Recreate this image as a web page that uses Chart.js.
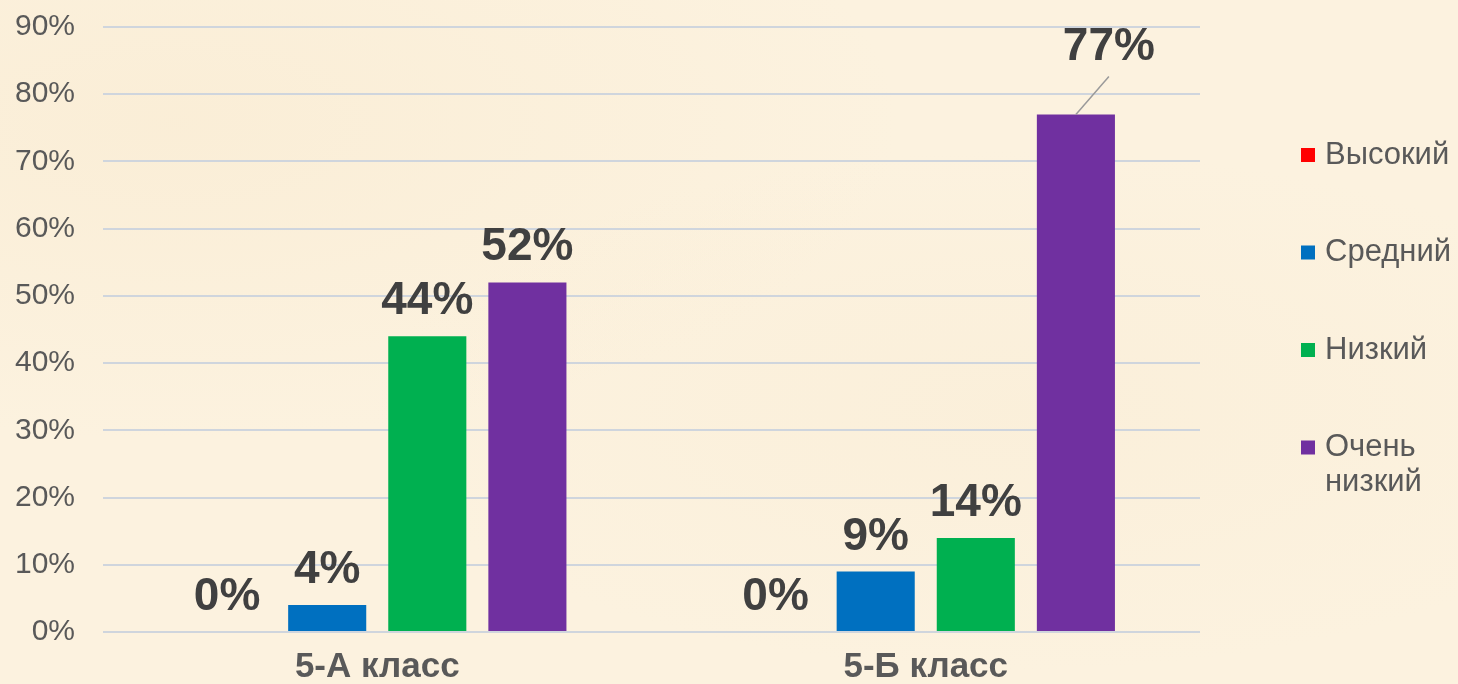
<!DOCTYPE html>
<html>
<head>
<meta charset="utf-8">
<script src="https://cdn.jsdelivr.net/npm/chart.js@4"></script>
<style>
    html, body {
        margin: 0;
        padding: 0;
        width: 1458px;
        height: 684px;
        overflow: hidden;
        background-color: #fcf2df;
        background-image:
            radial-gradient(ellipse at 12% 18%, rgba(245, 225, 190, 0.25), transparent 40%),
            radial-gradient(ellipse at 70% 60%, rgba(245, 228, 198, 0.20), transparent 45%);
    }
    #wrap {
        position: relative;
        width: 1458px;
        height: 684px;
    }
</style>
</head>
<body>
<div id="wrap"><canvas id="levelsChart" width="1458" height="684"></canvas></div>
<script>
// Dados do gráfico
const categories = ['5-А класс', '5-Б класс'];
const seriesNames = ['Высокий', 'Средний', 'Низкий', 'Очень низкий'];
const seriesColors = ['#ff0000', '#0070c0', '#00b050', '#7030a0'];
const highValues = [0, 0];
const middleValues = [4, 9];
const lowValues = [44, 14];
const veryLowValues = [52, 77];
const yTicks = [0, 10, 20, 30, 40, 50, 60, 70, 80, 90];

const seriesValues = [highValues, middleValues, lowValues, veryLowValues];

const FONT = '"Liberation Sans", Arial, sans-serif';

// Rótulos de dados acima das barras
const dataLabels = {
    id: 'dataLabels',
    afterDatasetsDraw(chart) {
        const ctx = chart.ctx;
        ctx.save();
        ctx.font = 'bold 46px ' + FONT;
        ctx.fillStyle = '#404040';
        ctx.textAlign = 'center';
        ctx.textBaseline = 'alphabetic';
        chart.data.datasets.forEach((ds, i) => {
            const meta = chart.getDatasetMeta(i);
            meta.data.forEach((bar, j) => {
                const text = ds.data[j] + '%';
                let x = bar.x;
                let y = bar.y - 22;
                // rótulo deslocado com linha de chamada (barra mais alta)
                if (i === 3 && j === 1) {
                    x += 33;
                    y -= 32;
                    ctx.strokeStyle = '#9a9a9a';
                    ctx.lineWidth = 1.5;
                    ctx.beginPath();
                    ctx.moveTo(bar.x, bar.y);
                    ctx.lineTo(bar.x + 33, bar.y - 38);
                    ctx.stroke();
                }
                ctx.fillText(text, x, y);
            });
        });
        ctx.restore();
    }
};

// Legenda desenhada à direita
const sideLegend = {
    id: 'sideLegend',
    afterDraw(chart) {
        const ctx = chart.ctx;
        const boxX = 1301;
        const textX = 1325;
        const maxW = chart.width - textX;
        const startY = 155;
        const stepY = 97.5;
        const lineH = 35;
        ctx.save();
        ctx.font = '31px ' + FONT;
        ctx.textBaseline = 'middle';
        ctx.textAlign = 'left';
        seriesNames.forEach((name, i) => {
            const y = startY + i * stepY;
            ctx.fillStyle = seriesColors[i];
            ctx.fillRect(boxX, y - 7, 14, 14);
            // quebra de linha simples
            const words = name.split(' ');
            const lines = [];
            let cur = '';
            words.forEach(w => {
                const test = cur ? cur + ' ' + w : w;
                if (cur && ctx.measureText(test).width > maxW) {
                    lines.push(cur);
                    cur = w;
                } else {
                    cur = test;
                }
            });
            lines.push(cur);
            ctx.fillStyle = '#595959';
            lines.forEach((ln, k) => ctx.fillText(ln, textX, y + k * lineH));
        });
        ctx.restore();
    }
};

const chartConfig = {
    type: 'bar',
    data: {
        labels: categories,
        datasets: seriesNames.map((name, i) => ({
            label: name,
            data: seriesValues[i],
            backgroundColor: seriesColors[i],
            borderWidth: 0,
            categoryPercentage: 0.73,
            barPercentage: 0.78
        }))
    },
    options: {
        responsive: false,
        animation: false,
        layout: {
            padding: { top: 27, right: 258, left: 0, bottom: 0 }
        },
        plugins: {
            legend: { display: false },
            tooltip: { enabled: false }
        },
        scales: {
            x: {
                grid: { display: false, drawTicks: false },
                border: { display: false },
                ticks: {
                    color: '#595959',
                    padding: 14,
                    font: { family: FONT, size: 35, weight: 'bold' }
                },
                afterFit: (scale) => {
                    scale.height = 52;
                    scale.paddingLeft = 0;
                    scale.paddingRight = 0;
                }
            },
            y: {
                min: 0,
                max: yTicks[yTicks.length - 1],
                afterBuildTicks: (scale) => {
                    scale.ticks = yTicks.map(v => ({ value: v }));
                },
                grid: { color: '#cfd5dd', lineWidth: 2, drawTicks: false },
                border: { display: false },
                ticks: {
                    color: '#595959',
                    padding: 28,
                    font: { family: FONT, size: 30 },
                    callback: (v) => v + '%'
                },
                afterFit: (scale) => {
                    scale.width = 103;
                    scale.paddingTop = 0;
                    scale.paddingBottom = 0;
                }
            }
        }
    },
    plugins: [dataLabels, sideLegend]
};

const levelsChart = new Chart(document.getElementById('levelsChart'), chartConfig);
</script>
</body>
</html>
